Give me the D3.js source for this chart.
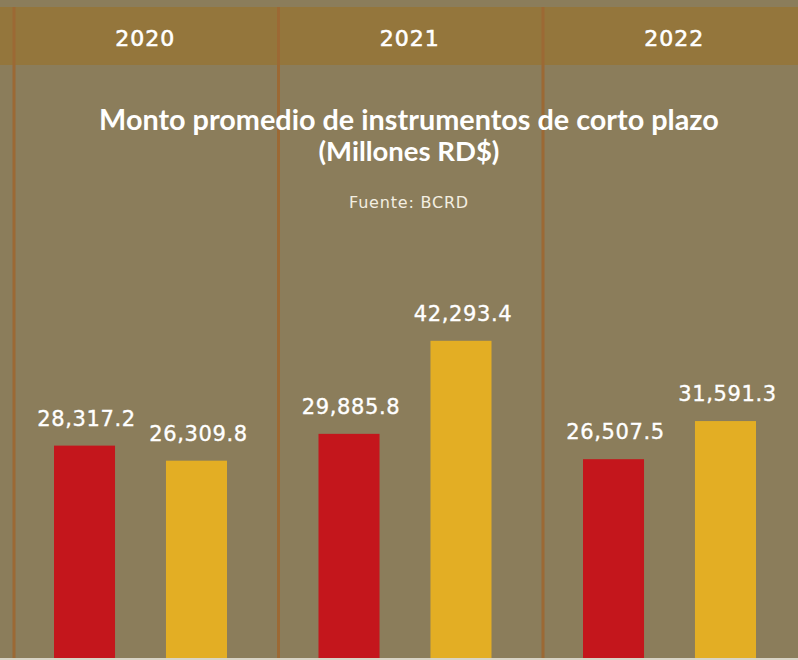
<!DOCTYPE html>
<html>
<head>
<meta charset="utf-8">
<script src="https://cdn.jsdelivr.net/npm/d3@7"></script>
<style>
  body { margin: 0; background: #8b7d5b; }
  svg { display: block; }
</style>
</head>
<body>
<div id="chart"></div>
<script>
// Data
const years = ["2020", "2021", "2022"];
const seriesNames = ["serie1", "serie2"];
const serie1 = [28317.2, 29885.8, 26507.5];
const serie2 = [26309.8, 42293.4, 31591.3];

const width = 798;
const height = 660;
const baseY = 658;

const svg = d3.select("#chart")
    .append("svg")
    .attr("width", width)
    .attr("height", height);

// background
svg.append("rect")
    .attr("width", width)
    .attr("height", height)
    .attr("fill", "#8b7d5b");

// header band
svg.append("rect")
    .attr("x", 0)
    .attr("y", 7)
    .attr("width", width)
    .attr("height", 58)
    .attr("fill", "#94763c");

// scales
const x0 = d3.scaleBand()
    .domain(years)
    .range([13, 13 + 264.5 * 3]);

const x1 = d3.scaleBand()
    .domain(seriesNames)
    .range([41, 214])
    .paddingInner(0.455);

const y = d3.scaleLinear()
    .domain([0, 50000])
    .range([baseY, baseY - 375]);

const color = d3.scaleOrdinal()
    .domain(seriesNames)
    .range(["#c4161c", "#e3ae24"]);

// vertical dividers
svg.selectAll(".divider")
    .data(years)
    .enter().append("line")
    .attr("class", "divider")
    .attr("x1", d => x0(d) + 1)
    .attr("x2", d => x0(d) + 1)
    .attr("y1", 7)
    .attr("y2", baseY)
    .attr("stroke", "#9c6934")
    .attr("stroke-width", 3);

// year labels
svg.selectAll(".year")
    .data(years)
    .enter().append("text")
    .attr("class", "year")
    .attr("x", d => x0(d) + x0.bandwidth() / 2)
    .attr("y", 46)
    .attr("text-anchor", "middle")
    .attr("fill", "#ffffff")
    .attr("stroke", "#ffffff")
    .attr("stroke-width", 0.6)
    .style("font-family", "DejaVu Sans")
    .style("font-size", "22px")
    .style("letter-spacing", "1px")
    .text(d => d);

// title
svg.append("text")
    .attr("x", 409)
    .attr("y", 130)
    .attr("text-anchor", "middle")
    .attr("fill", "#ffffff")
    .style("font-family", "Lato")
    .style("font-weight", "bold")
    .style("font-size", "28.8px")
    .text("Monto promedio de instrumentos de corto plazo");

svg.append("text")
    .attr("x", 409)
    .attr("y", 161)
    .attr("text-anchor", "middle")
    .attr("fill", "#ffffff")
    .style("font-family", "Lato")
    .style("font-weight", "bold")
    .style("font-size", "27.5px")
    .text("(Millones RD$)");

svg.append("text")
    .attr("x", 409)
    .attr("y", 208)
    .attr("text-anchor", "middle")
    .attr("fill", "#f4efe2")
    .style("font-family", "DejaVu Sans")
    .style("font-size", "16px")
    .style("letter-spacing", "0.8px")
    .text("Fuente: BCRD");

// bar data
const barData = [];
years.forEach((yr, i) => {
    barData.push({ year: yr, key: "serie1", value: serie1[i] });
    barData.push({ year: yr, key: "serie2", value: serie2[i] });
});

const fmt = d3.format(",.1f");

svg.selectAll(".bar")
    .data(barData)
    .enter().append("rect")
    .attr("class", "bar")
    .attr("x", d => x0(d.year) + x1(d.key))
    .attr("y", d => y(d.value))
    .attr("width", x1.bandwidth())
    .attr("height", d => baseY - y(d.value))
    .attr("fill", d => color(d.key));

svg.selectAll(".label")
    .data(barData)
    .enter().append("text")
    .attr("class", "label")
    .attr("x", d => x0(d.year) + x1(d.key) + x1.bandwidth() / 2 + 2)
    .attr("y", d => y(d.value) - 20)
    .attr("text-anchor", "middle")
    .attr("fill", "#ffffff")
    .attr("stroke", "#ffffff")
    .attr("stroke-width", 0.35)
    .style("font-family", "DejaVu Sans")
    .style("font-size", "21px")
    .style("letter-spacing", "0.6px")
    .text(d => fmt(d.value));

// bottom strip
svg.append("rect")
    .attr("x", 0)
    .attr("y", baseY)
    .attr("width", width)
    .attr("height", height - baseY)
    .attr("fill", "#d9d4c6");
</script>
</body>
</html>
